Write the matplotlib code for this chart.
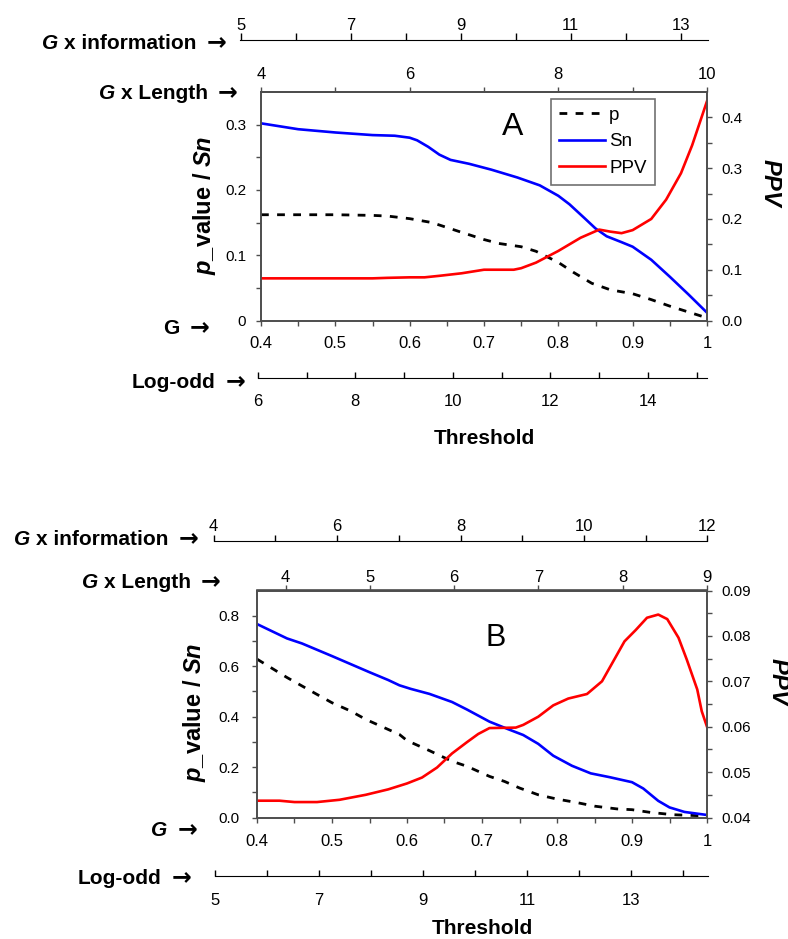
import matplotlib
matplotlib.use('Agg')
import matplotlib.pyplot as plt
from matplotlib.ticker import FixedLocator, FuncFormatter
from matplotlib.lines import Line2D

plt.rcParams['font.family'] = ['Liberation Sans', 'DejaVu Sans']
plt.rcParams['mathtext.fontset'] = 'custom'
plt.rcParams['mathtext.it'] = 'Liberation Sans:italic:bold'
plt.rcParams['mathtext.rm'] = 'Liberation Sans:bold'

W, H = 788, 939
FRAME = '#4d4d4d'

# ---- panel A data (threshold -> value) ----
a_sn_x = [0.40, 0.45, 0.50, 0.55, 0.58, 0.60, 0.61, 0.625, 0.64, 0.655, 0.68, 0.71, 0.745,
          0.775, 0.80, 0.815, 0.835, 0.85, 0.865, 0.885, 0.90, 0.925, 0.95, 0.975, 1.0]
a_sn = [0.302, 0.293, 0.288, 0.284, 0.283, 0.280, 0.276, 0.266, 0.254, 0.246, 0.240, 0.231, 0.219,
        0.207, 0.191, 0.178, 0.157, 0.141, 0.129, 0.120, 0.113, 0.093, 0.067, 0.040, 0.012]
a_p_x = [0.40, 0.45, 0.50, 0.55, 0.57, 0.60, 0.63, 0.67, 0.70, 0.72, 0.75, 0.77, 0.80, 0.82,
         0.845, 0.87, 0.90, 0.925, 0.95, 0.975, 1.0]
a_p = [0.162, 0.162, 0.162, 0.161, 0.160, 0.156, 0.150, 0.135, 0.124, 0.118, 0.113, 0.106, 0.089,
       0.074, 0.057, 0.047, 0.041, 0.032, 0.022, 0.013, 0.004]
a_ppv_x = [0.40, 0.45, 0.50, 0.55, 0.57, 0.60, 0.62, 0.64, 0.67, 0.70, 0.74, 0.75, 0.77, 0.80,
           0.83, 0.855, 0.87, 0.885, 0.90, 0.925, 0.945, 0.965, 0.98, 1.0]
a_ppv = [0.083, 0.083, 0.083, 0.083, 0.084, 0.085, 0.085, 0.088, 0.093, 0.100, 0.100, 0.103, 0.114,
         0.137, 0.163, 0.179, 0.175, 0.172, 0.178, 0.200, 0.238, 0.290, 0.345, 0.432]

# ---- panel B data ----
b_sn_x = [0.40, 0.44, 0.46, 0.50, 0.55, 0.575, 0.59, 0.605, 0.63, 0.66, 0.68, 0.71, 0.735, 0.755,
          0.775, 0.795, 0.82, 0.845, 0.87, 0.90, 0.915, 0.935, 0.95, 0.97, 1.0]
b_sn = [0.767, 0.710, 0.690, 0.640, 0.576, 0.545, 0.524, 0.510, 0.490, 0.458, 0.428, 0.380, 0.350,
        0.327, 0.292, 0.245, 0.205, 0.175, 0.160, 0.140, 0.115, 0.066, 0.040, 0.022, 0.010]
b_p_x = [0.40, 0.44, 0.48, 0.50, 0.525, 0.545, 0.59, 0.60, 0.63, 0.66, 0.68, 0.71, 0.73, 0.75,
         0.775, 0.80, 0.825, 0.85, 0.88, 0.90, 0.925, 0.955, 1.0]
b_p = [0.628, 0.555, 0.488, 0.455, 0.422, 0.389, 0.329, 0.305, 0.265, 0.223, 0.203, 0.163, 0.143,
       0.117, 0.090, 0.073, 0.060, 0.045, 0.034, 0.031, 0.020, 0.011, 0.006]
b_ppv_x = [0.40, 0.43, 0.45, 0.48, 0.51, 0.545, 0.575, 0.60, 0.62, 0.64, 0.66, 0.68, 0.695, 0.71,
           0.745, 0.755, 0.775, 0.795, 0.815, 0.84, 0.86, 0.89, 0.905, 0.92, 0.935, 0.947, 0.962,
           0.973, 0.987, 0.993, 1.0]
b_ppv = [0.0437, 0.0437, 0.0434, 0.0434, 0.0439, 0.0450, 0.0462, 0.0475, 0.0488, 0.0510, 0.0541,
         0.0566, 0.0584, 0.0597, 0.0598, 0.0604, 0.0622, 0.0647, 0.0662, 0.0672, 0.0700, 0.0788,
         0.0813, 0.0840, 0.0847, 0.0837, 0.0796, 0.0748, 0.0682, 0.0634, 0.0600]

thr_ticks = [0.4, 0.5, 0.6, 0.7, 0.8, 0.9, 1.0]


def fx(px):
    return px / W


def fy(py):
    return 1 - py / H


def arrow_label(fig, right, y, rest, g_style='italic'):
    # arrow drawn on its own (bigger, heavier glyph), then the words, then "G"
    arr = fig.text(fx(right), fy(y), '\u2192', ha='right', va='center', fontsize=17,
                   fontweight='bold', family='DejaVu Sans')
    t = plt.annotate(rest, xy=(0, 0.45), xycoords=arr, xytext=(-7, 0), textcoords='offset points',
                     ha='right', va='center', fontsize=15, fontweight='bold')
    if g_style is not None:
        plt.annotate('G', xy=(0, 0), xycoords=t, xytext=(-4, 0), textcoords='offset points',
                     ha='right', va='bottom', fontsize=15, fontweight='bold', fontstyle=g_style)


def side_axis(fig, x0, x1, y, lim, major, minor, top, pad, ticklen):
    a = fig.add_axes([fx(x0), fy(y), fx(x1) - fx(x0), 0.0001])
    a.patch.set_visible(False)
    for s in ['left', 'right', 'top', 'bottom']:
        a.spines[s].set_visible(False)
    a.set_yticks([])
    a.set_xlim(lim)
    a.xaxis.set_major_locator(FixedLocator(major))
    a.xaxis.set_minor_locator(FixedLocator(minor))
    a.xaxis.set_major_formatter(FuncFormatter(lambda v, p: '%g' % v))
    if top:
        a.spines['top'].set_visible(True)
        a.xaxis.tick_top()
        a.tick_params(axis='x', which='both', direction='out', length=ticklen, pad=pad,
                      labelsize=12, width=1)
    else:
        a.spines['bottom'].set_visible(True)
        a.tick_params(axis='x', which='both', direction='in', length=ticklen, pad=pad,
                      labelsize=12, width=1)
    return a


def draw_panel(fig, box, sn_x, sn, p_x, p, ppv_x, ppv, ylim, y_major, y_minor, yfmt,
               rlim, r_major, r_minor, rfmt, glen, glen_major, glen_minor, glen_pad,
               ypad, xpad):
    left, top, right, bottom = box
    ax = fig.add_axes([fx(left), fy(bottom), fx(right) - fx(left), (bottom - top) / H])
    ax.plot(p_x, p, color='black', lw=2.0, dashes=(2.8, 3.0))
    ax.plot(sn_x, sn, color='#0000ff', lw=1.9)
    ax.set_xlim(0.4, 1.0)
    ax.set_ylim(ylim)
    ax.xaxis.set_major_locator(FixedLocator(thr_ticks))
    ax.xaxis.set_minor_locator(FixedLocator([0.45, 0.55, 0.65, 0.75, 0.85, 0.95]))
    ax.xaxis.set_major_formatter(FuncFormatter(lambda v, q: '1' if abs(v - 1) < 1e-9 else '%.1f' % v))
    ax.yaxis.set_major_locator(FixedLocator(y_major))
    ax.yaxis.set_minor_locator(FixedLocator(y_minor))
    ax.yaxis.set_major_formatter(FuncFormatter(yfmt))
    ax.tick_params(axis='x', which='both', direction='out', length=3.5, width=1, color=FRAME,
                   labelsize=12, pad=xpad)
    ax.tick_params(axis='y', which='both', direction='out', length=3.5, width=1, color=FRAME,
                   labelsize=11, pad=ypad)
    for s in ax.spines.values():
        s.set_color(FRAME)
        s.set_linewidth(1.2)

    ax2 = ax.twinx()
    ax2.plot(ppv_x, ppv, color='#ff0000', lw=1.9)
    ax2.set_ylim(rlim)
    ax2.yaxis.set_major_locator(FixedLocator(r_major))
    ax2.yaxis.set_minor_locator(FixedLocator(r_minor))
    ax2.yaxis.set_major_formatter(FuncFormatter(rfmt))
    ax2.tick_params(axis='y', which='both', direction='out', length=3.5, width=1, color=FRAME,
                    labelsize=11, pad=6.5)
    for s in ax2.spines.values():
        s.set_color(FRAME)
        s.set_linewidth(1.2)

    g0, g1 = glen
    sec = ax.secondary_xaxis('top', functions=(lambda t: g0 + (t - 0.4) * (g1 - g0) / 0.6,
                                                lambda g: 0.4 + (g - g0) * 0.6 / (g1 - g0)))
    sec.xaxis.set_major_locator(FixedLocator(glen_major))
    sec.xaxis.set_minor_locator(FixedLocator(glen_minor))
    sec.xaxis.set_major_formatter(FuncFormatter(lambda v, q: '%g' % v))
    sec.tick_params(axis='x', which='both', direction='out', length=3.5, width=1, color=FRAME,
                    labelsize=12, pad=glen_pad)
    sec.spines['top'].set_color(FRAME)
    sec.spines['top'].set_linewidth(1.2)
    return ax, ax2


fig = plt.figure(figsize=(W / 100, H / 100), dpi=100)

# ================= panel A =================
draw_panel(fig, (261, 92, 707, 320.5), a_sn_x, a_sn, a_p_x, a_p, a_ppv_x, a_ppv,
           (0, 0.35), [0, 0.1, 0.2, 0.3], [0.05, 0.15, 0.25],
           lambda v, q: '0' if v == 0 else '%.1f' % v,
           (0, 0.45), [0, 0.1, 0.2, 0.3, 0.4], [0.05, 0.15, 0.25, 0.35],
           lambda v, q: '%.1f' % v,
           (4, 10), [4, 6, 8, 10], [5, 7, 9], 4, 7.3, 7.5)
side_axis(fig, 240, 707.5, 40, (4.98, 13.49), [5, 7, 9, 11, 13], [6, 8, 10, 12], True, 0.5, 4.8)
side_axis(fig, 257.8, 707.5, 377.7, (6, 15.22), [6, 8, 10, 12, 14], [7, 9, 11, 13, 15], False, 11.4, 4.3)

arrow_label(fig, 226, 42, 'x information')
arrow_label(fig, 237, 92, 'x Length')
arrow_label(fig, 209, 327, 'G', g_style=None)
arrow_label(fig, 245, 381, 'Log-odd', g_style=None)
fig.text(fx(484), fy(439), 'Threshold', ha='center', va='center', fontsize=15, fontweight='bold')
fig.text(fx(205), fy(205), r'$p$_value / $Sn$', ha='center', va='center', rotation=90,
         fontsize=17, fontweight='bold')
fig.text(fx(770), fy(183), r'$PPV$', ha='center', va='center', rotation=-90, fontsize=17)
fig.text(fx(512.7), fy(127), 'A', ha='center', va='center', fontsize=23)

handles = [Line2D([], [], color='black', lw=2.0, dashes=(2.8, 3.0)),
           Line2D([], [], color='#0000ff', lw=1.9),
           Line2D([], [], color='#ff0000', lw=1.9)]
leg = fig.legend(handles, ['p', 'Sn', 'PPV'], loc='upper left',
                 bbox_to_anchor=(fx(550.7), fy(99)), bbox_transform=fig.transFigure,
                 fontsize=13.5, frameon=True, fancybox=False, handlelength=2.5,
                 handletextpad=0.2, labelspacing=0.5, borderpad=0.42, borderaxespad=0)
leg.get_frame().set_edgecolor(FRAME)
leg.get_frame().set_linewidth(1.2)

# ================= panel B =================
draw_panel(fig, (257, 590.5, 707, 817.5), b_sn_x, b_sn, b_p_x, b_p, b_ppv_x, b_ppv,
           (0, 0.9), [0, 0.2, 0.4, 0.6, 0.8], [0.1, 0.3, 0.5, 0.7],
           lambda v, q: '%.1f' % v,
           (0.04, 0.09), [0.04, 0.05, 0.06, 0.07, 0.08, 0.09],
           [0.045, 0.055, 0.065, 0.075, 0.085],
           lambda v, q: '%.2f' % v,
           (3.66, 9), [4, 5, 6, 7, 8, 9], [], 0.3, 9, 8.7)
side_axis(fig, 213.6, 707.5, 541, (4, 12), [4, 6, 8, 10, 12], [5, 7, 9, 11], True, 1, 4)
side_axis(fig, 215, 707.5, 876, (5, 14.47), [5, 7, 9, 11, 13], [6, 8, 10, 12, 14], False, 11.9, 4.3)

arrow_label(fig, 198, 538, 'x information')
arrow_label(fig, 220, 581, 'x Length')
# italic G with arrow only
arr_b = fig.text(fx(197), fy(829), '\u2192', ha='right', va='center', fontsize=17,
                 fontweight='bold', family='DejaVu Sans')
plt.annotate('G', xy=(0, 0.45), xycoords=arr_b, xytext=(-7, 0), textcoords='offset points',
             ha='right', va='center', fontsize=15, fontweight='bold', fontstyle='italic')
arrow_label(fig, 191, 877, 'Log-odd', g_style=None)
fig.text(fx(482), fy(929), 'Threshold', ha='center', va='center', fontsize=15, fontweight='bold')
fig.text(fx(195), fy(712), r'$p$_value / $Sn$', ha='center', va='center', rotation=90,
         fontsize=17, fontweight='bold')
fig.text(fx(778), fy(682), r'$PPV$', ha='center', va='center', rotation=-90, fontsize=17)
fig.text(fx(496), fy(638), 'B', ha='center', va='center', fontsize=22)

fig.savefig('out.png', dpi=100)
